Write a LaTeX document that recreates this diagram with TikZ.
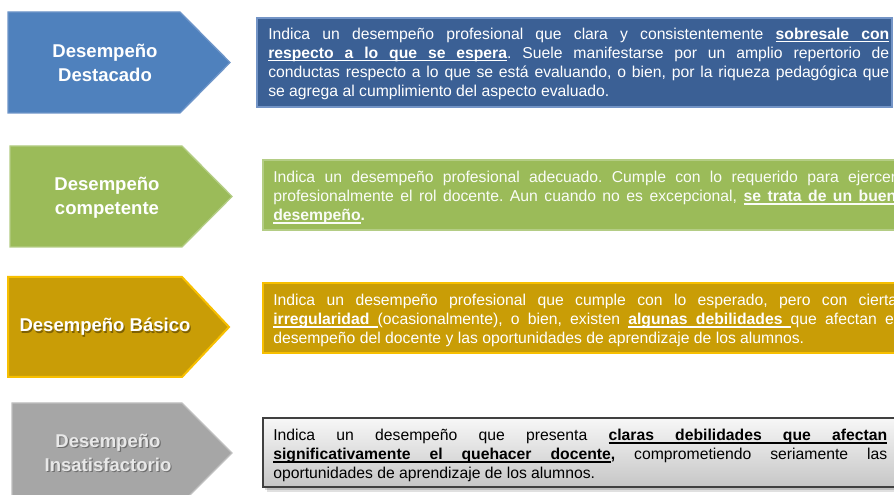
\documentclass[tikz,border=0pt]{standalone}
\usepackage{fontspec}
\setmainfont{Liberation Sans}
\usetikzlibrary{fit}
\definecolor{arrBlue}{HTML}{4F81BD}
\definecolor{arrBlueEdge}{HTML}{6E95C9}
\definecolor{boxBlue}{HTML}{3B6095}
\definecolor{boxBlueEdge}{HTML}{7394C6}
\definecolor{grn}{HTML}{9BBB59}
\definecolor{grnEdge}{HTML}{B4CD85}
\definecolor{gold}{HTML}{C99D06}
\definecolor{goldEdge}{HTML}{F7BF00}
\definecolor{goldShadow}{HTML}{5E4700}
\definecolor{gry}{HTML}{A6A6A6}
\definecolor{gryEdge}{HTML}{C0C0C0}
\definecolor{gryText}{HTML}{E8E8E8}
\definecolor{gryShadow}{HTML}{4A4A4A}
\definecolor{boxTop}{HTML}{F7F7F7}
\definecolor{boxBot}{HTML}{C6C6C6}
\definecolor{boxEdge}{HTML}{404040}
% underlined bold words with stretchable underlined spaces
\newcommand{\ulw}[1]{\setbox0\hbox{#1}\rlap{\rule[-2.3pt]{\wd0}{1pt}}\box0}
\newcommand{\uls}{\leaders\hrule height -1.3pt depth 2.3pt\hskip\fontdimen2\font plus\fontdimen3\font minus\fontdimen4\font\relax}
\def\ULsplit#1 #2\ULend{\ulw{#1}\ifx\relax#2\relax\else\uls\ULsplit#2\ULend\fi}
\newcommand{\ubf}[1]{{\bfseries\ULsplit#1 \ULend}}
\newcommand{\descsetup}{\frenchspacing\tolerance=9999\hbadness=10000\hyphenpenalty=10000\exhyphenpenalty=10000\parindent=0pt\leavevmode}
\tikzset{
  lvlarrow/.style={line width=1pt, line join=miter},
  lbl/.style={font=\fontsize{13.9}{18}\selectfont\bfseries, text=white, align=center, inner sep=0pt},
  desc/.style={anchor=north west, inner sep=0pt, text width=#1, align=justify,
    font=\fontsize{11.8}{14.3}\selectfont},
  descbox/.style={inner sep=0pt, line width=1pt}
}
\begin{document}
\begin{tikzpicture}[x=0.75pt,y=-0.75pt]
\useasboundingbox (0,0) rectangle (894,495);
\fill[white] (0,0) rectangle (894,495);

% ---------- Row 1 ----------
\filldraw[lvlarrow, fill=arrBlue, draw=arrBlueEdge]
  (8,12) -- (180,12) -- (230,62.5) -- (180,113) -- (8,113) -- cycle;
\node[lbl] (l1) at (105,62.5) {Desempeño\\Destacado};
\node[descbox, fill=boxBlue, draw=boxBlueEdge, fit={(257,18) (892,107)}] (b1) {};
\node[desc=465.75pt, text=white] (t1) at (268,25.5) {\descsetup\strut Indica un desempeño profesional que clara y consistentemente \ubf{sobresale con}\linebreak
\ubf{respecto a lo que se espera}. Suele manifestarse por un amplio repertorio de\linebreak
conductas respecto a lo que se está evaluando, o bien, por la riqueza pedagógica que\linebreak
se agrega al cumplimiento del aspecto evaluado.};

% ---------- Row 2 ----------
\filldraw[lvlarrow, fill=grn, draw=grnEdge]
  (10,146) -- (182,146) -- (232,196.5) -- (182,247) -- (10,247) -- cycle;
\node[lbl] (l2) at (107,197.5) {Desempeño\\competente};
\node[descbox, fill=grn, draw=grnEdge, fit={(263,160) (900,230)}] (b2) {};
\node[desc=467.25pt, text=white!95!grn] (t2) at (273,169) {\descsetup\strut Indica un desempeño profesional adecuado. Cumple con lo requerido para ejercer\linebreak
profesionalmente el rol docente. Aun cuando no es excepcional, \ubf{se trata de un buen}\linebreak
\ubf{desempeño}\textbf{.}};

% ---------- Row 3 ----------
\filldraw[lvlarrow, fill=gold, draw=goldEdge, line width=1.5pt]
  (8,277) -- (182,277) -- (229,327) -- (182,377) -- (8,377) -- cycle;
\node[lbl, text=goldShadow, opacity=0.7] (l3s) at (106.2,328.2) {Desempeño Básico};
\node[lbl] (l3) at (105,327) {Desempeño Básico};
\node[descbox, fill=gold, draw=goldEdge, line width=1.5pt, fit={(263,283) (900,353)}] (b3) {};
\node[desc=468pt, text=white] (t3) at (273,292) {\descsetup\strut Indica un desempeño profesional que cumple con lo esperado, pero con cierta\linebreak
\ubf{irregularidad}{\bfseries\uls}(ocasionalmente), o bien, existen \ubf{algunas debilidades}{\bfseries\uls}que afectan el\linebreak
desempeño del docente y las oportunidades de aprendizaje de los alumnos.};

% ---------- Row 4 ----------
\filldraw[lvlarrow, fill=gry, draw=gryEdge]
  (12,403) -- (182,403) -- (232,453) -- (182,503) -- (12,503) -- cycle;
\node[lbl, text=gryShadow, opacity=0.6] (l4s) at (109.2,454.2) {Desempeño\\Insatisfactorio};
\node[lbl, text=gryText] (l4) at (108,453) {Desempeño\\Insatisfactorio};
\fill[black, opacity=0.12] (267,422) rectangle (904,492);
\fill[black, opacity=0.15] (265,420) rectangle (902,490);
\node[descbox, top color=boxTop, bottom color=boxBot, draw=boxEdge, fit={(263,418) (900,487)}] (b4) {};
\node[desc=460.5pt, text=black] (t4) at (273,427) {\descsetup\strut Indica un desempeño que presenta \ubf{claras debilidades que afectan}\linebreak
\ubf{significativamente el quehacer docente}\textbf{,} comprometiendo seriamente las\linebreak
oportunidades de aprendizaje de los alumnos.};
\end{tikzpicture}
\end{document}
